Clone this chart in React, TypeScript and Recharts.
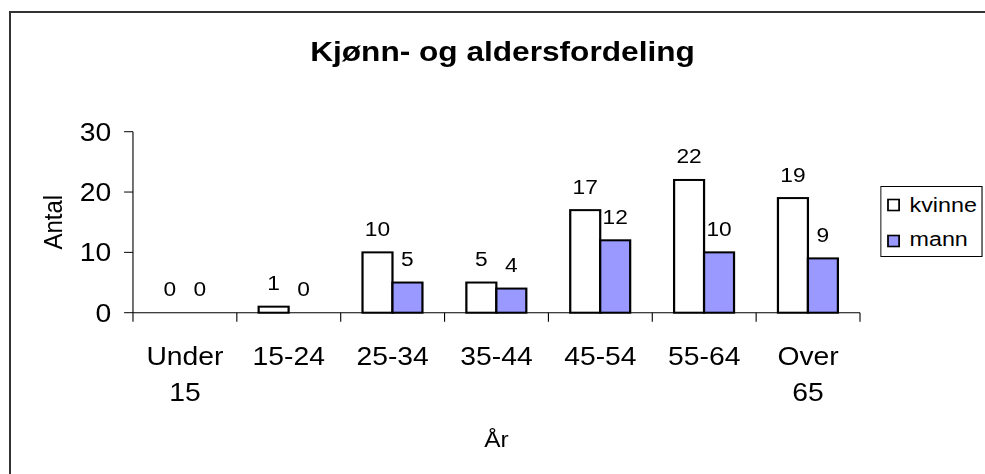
import React from 'react';
import { BarChart, Bar, XAxis, YAxis, Legend } from 'recharts';

const categories = ['Under 15', '15-24', '25-34', '35-44', '45-54', '55-64', 'Over 65'];
const kvinne = [0, 1, 10, 5, 17, 22, 19];
const mann = [0, 0, 5, 4, 12, 10, 9];
const seriesNames = ['kvinne', 'mann'];
const seriesColors = ['#FFFFFF', '#9999FF'];
const yTicks = [0, 10, 20, 30];
const title = 'Kjønn- og aldersfordeling';
const yTitle = 'Antal';
const xTitle = 'År';

const data = categories.map((c, i) => ({ cat: c, kvinne: kvinne[i], mann: mann[i] }));

const FONT = "'Liberation Sans', Arial, Helvetica, sans-serif";
const S = 1.11; // horizontal stretch of the original picture
const W = 985 / S;
const H = 474;
const M = { top: 131.7, right: 112.6, left: 0, bottom: 0 };
const Y_W = 119.8;
const X_H = H - 312.7;
const PLOT_W = W - M.left - Y_W - M.right;
const BAND = PLOT_W / categories.length;
const PLOT_CX = M.left + Y_W + PLOT_W / 2;
const PLOT_CY = M.top + (H - M.top - X_H) / 2;
const AXIS_Y = H - X_H;

const XTick = (props: any) => {
  const { x, payload, index } = props;
  const half = BAND / 2;
  const lines = String(payload.value).split(' ');
  const last = index === categories.length - 1;
  return (
    <g>
      <line x1={x - half} x2={x - half} y1={AXIS_Y} y2={AXIS_Y + 9} stroke="#000" strokeWidth={1} />
      {last && <line x1={x + half} x2={x + half} y1={AXIS_Y} y2={AXIS_Y + 9} stroke="#000" strokeWidth={1} />}
      <text textAnchor="middle" fontSize={25.5} fontFamily={FONT} fill="#000">
        {lines.map((l, i) => (
          <tspan key={i} x={x} y={AXIS_Y + 52.3 + i * 35.7}>{l}</tspan>
        ))}
      </text>
    </g>
  );
};

const makeShape = (key: string, fill: string) => (p: any) => {
  const x = Number(p.x);
  const y = Number(p.y);
  const w = Number(p.width);
  const h = Number(p.height) || 0;
  const top = Math.min(y, y + h);
  const v = p.payload ? p.payload[key] : p.value;
  return (
    <g>
      {Math.abs(h) > 0 && (
        <rect x={x} y={top} width={w} height={Math.abs(h)} fill={fill} stroke="#000" strokeWidth={2} />
      )}
      <text x={x + w / 2} y={top - 16.5} textAnchor="middle" fontSize={20.5} fontFamily={FONT} fill="#000">
        {v}
      </text>
    </g>
  );
};

const LegendContent = () => (
  <svg width={92.2} height={71} style={{ display: 'block' }}>
    <rect x={0.5} y={0.5} width={91.2} height={70} fill="#fff" stroke="#000" strokeWidth={1} />
    {seriesNames.map((n, i) => (
      <g key={n}>
        <rect x={7} y={13.5 + i * 36} width={10} height={11} fill={seriesColors[i]} stroke="#000" strokeWidth={1.6} />
        <text x={26.4} y={25.7 + i * 34.5} fontSize={21} fontFamily={FONT} fill="#000">{n}</text>
      </g>
    ))}
  </svg>
);

export default function App() {
  return (
    <div style={{ position: 'absolute', left: 0, top: 0, width: 985, height: 474, overflow: 'hidden', background: '#fff' }}>
      <div style={{ position: 'absolute', left: 9, top: 11, width: 1100, height: 600, borderTop: '2px solid #333', borderLeft: '2px solid #333' }} />
      <div style={{ position: 'absolute', left: 0, top: 0, width: W, height: H, transform: `scaleX(${S})`, transformOrigin: '0 0' }}>
        <BarChart width={W} height={H} data={data} margin={M} barCategoryGap="21%" barGap={0}>
          <XAxis
            dataKey="cat"
            interval={0}
            height={X_H}
            tickLine={false}
            tickSize={0}
            tickMargin={0}
            axisLine={{ stroke: '#000', strokeWidth: 1 }}
            tick={<XTick />}
            label={() => (
              <text x={PLOT_CX} y={446.7} textAnchor="middle" fontSize={22} fontFamily={FONT} fill="#000">{xTitle}</text>
            )}
          />
          <YAxis
            domain={[0, 30]}
            ticks={yTicks}
            interval={0}
            width={Y_W}
            tickSize={8}
            tickMargin={11.5}
            axisLine={{ stroke: '#000', strokeWidth: 1 }}
            tickLine={{ stroke: '#000', strokeWidth: 1 }}
            tick={{ fontSize: 25.5, fill: '#000', fontFamily: FONT }}
            label={() => (
              <text x={55.6} y={PLOT_CY} textAnchor="middle" fontSize={24} fontFamily={FONT} fill="#000" transform={`rotate(-90, 55.6, ${PLOT_CY})`}>{yTitle}</text>
            )}
          />
          <Legend
            layout="vertical"
            align="center"
            verticalAlign="middle"
            content={<LegendContent />}
            wrapperStyle={{ left: 793.4, top: 186, width: 92.2, height: 71, margin: 0, padding: 0 }}
          />
          <Bar dataKey="kvinne" name={seriesNames[0]} fill={seriesColors[0]} stroke="#000" strokeWidth={2} isAnimationActive={false} shape={makeShape('kvinne', seriesColors[0])} />
          <Bar dataKey="mann" name={seriesNames[1]} fill={seriesColors[1]} stroke="#000" strokeWidth={2} isAnimationActive={false} shape={makeShape('mann', seriesColors[1])} />
        </BarChart>
        <svg width={W} height={H} style={{ position: 'absolute', left: 0, top: 0, pointerEvents: 'none' }}>
          <text x={452.7} y={61} textAnchor="middle" fontSize={28.5} fontWeight="bold" fontFamily={FONT} fill="#000">{title}</text>
        </svg>
      </div>
    </div>
  );
}
